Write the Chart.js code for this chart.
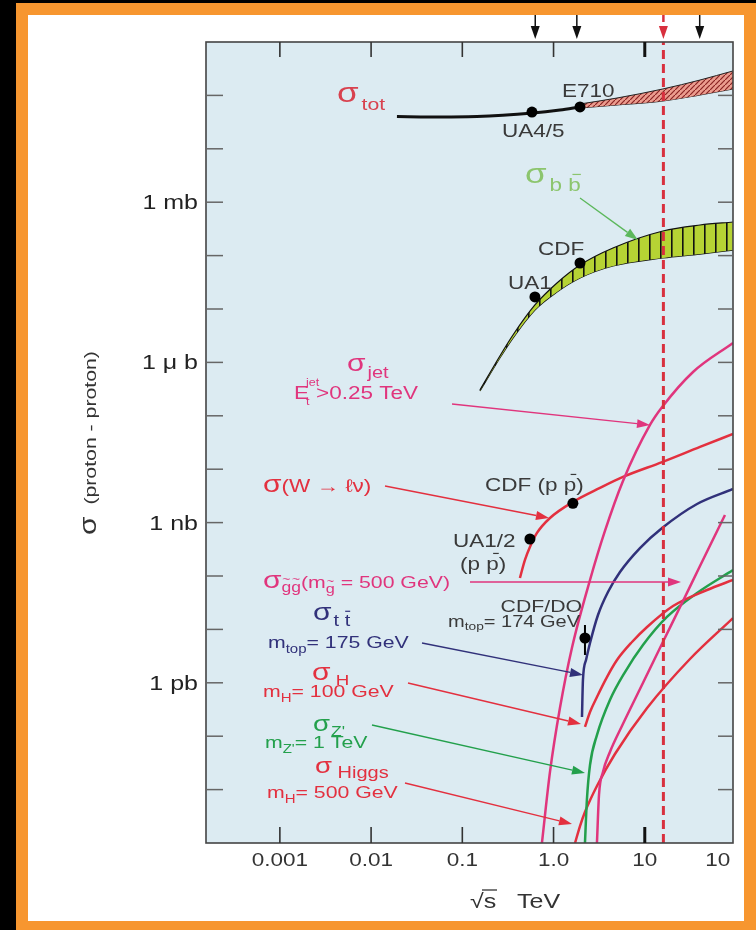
<!DOCTYPE html>
<html>
<head>
<meta charset="utf-8">
<script src="https://cdn.jsdelivr.net/npm/chart.js@4.4.1/dist/chart.umd.min.js"></script>
<style>
  html, body { margin: 0; padding: 0; background: #000; }
  canvas { display: block; }
</style>
</head>
<body>
<canvas id="c" width="756" height="930"></canvas>
<script>
// ---------------- data (sqrt(s) in TeV, cross sections in pb) ----------------
const colliderEnergies = [0.63, 1.8, 16, 40];          // arrows above the frame
const dashedEnergy = 16;                               // dashed vertical marker
const xTickValues = [0.001, 0.01, 0.1, 1, 10, 100];
const xTickLabels = ['0.001', '0.01', '0.1', '1.0', '10', '100'];
const yTickValues = [1e9, 1e6, 1e3, 1];
const yTickLabels = ['1 mb', '1 \u03bc b', '1 nb', '1 pb'];

// sigma_tot
const totLineS     = [0.0192, 0.0441, 0.1445, 0.594, 1.175, 1.95];
const totLineSigma = [4.02e10, 3.94e10, 4.02e10, 4.68e10, 5.33e10, 6.07e10];
const totBandS     = [1.95, 4.96, 15.8, 40.3, 92.7];
const totBandHigh  = [6.9e10, 8.93e10, 1.32e11, 1.94e11, 2.87e11];
const totBandLow   = [5.81e10, 6.61e10, 7.85e10, 1.02e11, 1.32e11];
const totPointS     = [0.58, 1.95];                    // UA4/5, E710
const totPointSigma = [4.88e10, 6.07e10];

// sigma_bbbar band
const bbS    = [0.156, 0.258, 0.359, 0.625, 1.09, 1.95, 4.48, 15.8, 40.3, 92.7];
const bbHigh = [3.04e5, 1.32e6, 3.26e6, 1.19e7, 3.07e7, 6.67e7, 1.39e8, 2.89e8, 3.74e8, 4.26e8];
const bbLow  = [2.91e5, 1.21e6, 2.86e6, 9.57e6, 2.08e7, 3.81e7, 6.38e7, 9.02e7, 1.07e8, 1.27e8];
const bbPointS     = [0.625, 1.95];                    // UA1, CDF
const bbPointSigma = [1.68e7, 7.27e7];

// sigma_jet (E_T > 0.25 TeV)
const jetS     = [0.746, 0.914, 1.175, 1.59, 2.51, 3.66, 5.77, 11.4, 15.5, 33.8, 92.7];
const jetSigma = [0.001, 0.0214, 0.337, 4.49, 84.2, 697, 6.01e3, 6.73e4, 1.46e5, 6.61e5, 2.31e6];

// sigma(W -> l nu)
const wS     = [0.428, 0.486, 0.551, 0.658, 0.914, 1.63, 3.23, 5.77, 15.5, 40.3, 92.7];
const wSigma = [91.8, 200, 349, 640, 1.22e3, 2.44e3, 4.47e3, 7.18e3, 1.36e4, 2.61e4, 4.57e4];
const wPointS     = [0.551, 1.63];                     // UA1/2, CDF
const wPointSigma = [493, 2.3e3];

// sigma(gluino pair), m = 500 GeV
const ggS     = [2.99, 3.15, 3.48, 4.15, 5.62, 8.86, 15.8, 25.6, 40.3, 75.7];
const ggSigma = [0.001, 0.008, 0.0214, 0.0506, 0.155, 0.766, 5.81, 31.2, 154, 1.39e3];

// sigma(t tbar), m_top = 175 GeV
const ttS     = [2.05, 2.10, 2.27, 2.51, 3.07, 3.95, 5.35, 8.86, 15.5, 37.4, 92.7];
const ttSigma = [0.229, 1.13, 2.67, 5.56, 18.6, 50.1, 119, 334, 793, 2.23e3, 4.26e3];
const ttPointS = 2.21, ttPointSigma = 6.9, ttErrLow = 3.32, ttErrHigh = 12.1;   // CDF/D0

// sigma_H, m_H = 100 GeV
const h100S     = [2.21, 2.51, 2.99, 3.85, 4.96, 7.24, 10.6, 20.4, 48.1, 92.7];
const h100Sigma = [0.149, 0.284, 0.542, 1.28, 2.67, 5.81, 11.1, 27.4, 54.7, 84.2];

// sigma_Z', m_Z' = 1 TeV
const zpS     = [2.21, 2.32, 2.51, 2.99, 4.15, 6.07, 9.55, 17.5, 37.4, 92.7];
const zpSigma = [0.001, 0.00639, 0.0289, 0.105, 0.476, 1.59, 5.10, 17.1, 48.1, 129];

// sigma_Higgs, m_H = 500 GeV
const h500S     = [1.72, 1.95, 2.21, 2.99, 4.71, 10.6, 31.3, 92.7];
const h500Sigma = [0.001, 0.00208, 0.00381, 0.0117, 0.0464, 0.337, 2.79, 16.3];

// ---------------- styling ----------------
const FONT = '"Liberation Sans", Arial, Helvetica, sans-serif';
const SX = 1.25;                       // horizontal stretch of all lettering
const TXT = '#3a3a3a';
const RED_T = '#d8424f';
const GREEN_L = '#8cc56e';
const MAG = '#e0357d';
const RED = '#e3303f';
const NAVY = '#31317a';
const GREEN = '#23a04c';
const BG = '#dcebf2';

const pts = (xs, ys) => xs.map((x, i) => ({ x: x, y: ys[i] }));

function makePattern(w, h, draw) {
  const c = document.createElement('canvas');
  c.width = w; c.height = h;
  const g = c.getContext('2d');
  draw(g, w, h);
  return document.getElementById('c').getContext('2d').createPattern(c, 'repeat');
}
const bbPattern = makePattern(11, 11, (g, w, h) => {
  g.fillStyle = '#b6d334'; g.fillRect(0, 0, w, h);
  g.fillStyle = '#111'; g.fillRect(0, 0, 1.6, h);
});
const totPattern = makePattern(5, 5, (g, w, h) => {
  g.fillStyle = '#eb9c8e'; g.fillRect(0, 0, w, h);
  g.strokeStyle = '#8a2424'; g.lineWidth = 1.2;
  g.beginPath(); g.moveTo(-1, h + 1); g.lineTo(w + 1, -1); g.stroke();
});

const curve = (data, color, width) => ({
  data: data, borderColor: color, borderWidth: width, pointRadius: 0,
  fill: false, cubicInterpolationMode: 'monotone'
});
const dots = (data) => ({
  data: data, showLine: false, pointRadius: 5.5, pointBackgroundColor: '#000',
  pointBorderColor: '#000', pointBorderWidth: 0
});

// ---------------- text helpers ----------------
function partWidth(ctx, p) {
  ctx.font = (p.w || 'normal') + ' ' + p.s + 'px ' + FONT;
  return ctx.measureText(p.t).width * SX;
}
function rich(ctx, x, y, parts, color, align) {
  let total = 0;
  parts.forEach(p => { total += partWidth(ctx, p) + (p.dx || 0); });
  let cx = x;
  if (align === 'right') cx = x - total;
  if (align === 'center') cx = x - total / 2;
  parts.forEach(p => {
    const w = partWidth(ctx, p);
    cx += (p.dx || 0);
    const by = y + (p.dy || 0);
    ctx.fillStyle = p.c || color;
    ctx.strokeStyle = p.c || color;
    ctx.save();
    ctx.translate(cx, by);
    ctx.scale(SX, 1);
    ctx.textAlign = 'left';
    ctx.textBaseline = 'alphabetic';
    ctx.fillText(p.t, 0, 0);
    ctx.restore();
    if (p.bar) {
      ctx.lineWidth = 1.2;
      ctx.beginPath();
      ctx.moveTo(cx + w * 0.55, by - p.s * 0.92);
      ctx.lineTo(cx + w, by - p.s * 0.92);
      ctx.stroke();
    }
    if (p.tilde) {
      ctx.save();
      ctx.font = Math.round(p.s * 0.8) + 'px ' + FONT;
      ctx.textAlign = 'center';
      ctx.translate(cx + w / 2, by - p.s * 0.62);
      ctx.scale(SX, 1);
      ctx.fillText('~', 0, 0);
      ctx.restore();
    }
    cx += w;
  });
}
function arrow(ctx, x1, y1, x2, y2, color, width, dash) {
  const a = Math.atan2(y2 - y1, x2 - x1);
  const L = 13, W = 4.5;
  const bx = x2 - L * Math.cos(a), by = y2 - L * Math.sin(a);
  ctx.save();
  ctx.strokeStyle = color; ctx.fillStyle = color; ctx.lineWidth = width;
  if (dash) ctx.setLineDash(dash);
  ctx.beginPath(); ctx.moveTo(x1, y1); ctx.lineTo(bx, by); ctx.stroke();
  ctx.setLineDash([]);
  ctx.beginPath();
  ctx.moveTo(x2, y2);
  ctx.lineTo(bx + W * Math.sin(a), by - W * Math.cos(a));
  ctx.lineTo(bx - W * Math.sin(a), by + W * Math.cos(a));
  ctx.closePath(); ctx.fill();
  ctx.restore();
}

// labels placed on the page
const labels = [
  { x: 337, y: 102, c: RED_T, p: [{ t: '\u03c3', s: 28 }, { t: 'tot', s: 17, dy: 8, dx: 3 }] },
  { x: 562, y: 97, c: TXT, p: [{ t: 'E710', s: 18 }] },
  { x: 502, y: 137, c: TXT, p: [{ t: 'UA4/5', s: 18 }] },
  { x: 525, y: 183, c: GREEN_L, p: [{ t: '\u03c3', s: 28 }, { t: 'b', s: 18, dy: 8, dx: 3 }, { t: ' b', s: 18, dy: 8, bar: true }] },
  { x: 538, y: 255, c: TXT, p: [{ t: 'CDF', s: 18 }] },
  { x: 508, y: 289, c: TXT, p: [{ t: 'UA1', s: 18 }] },
  { x: 347, y: 371, c: MAG, p: [{ t: '\u03c3', s: 24 }, { t: 'jet', s: 16, dy: 7, dx: 2 }] },
  { x: 294, y: 399, c: MAG, p: [{ t: 'E', s: 18 }] },
  { x: 306, y: 386, c: MAG, p: [{ t: 'jet', s: 10 }] },
  { x: 306, y: 405, c: MAG, p: [{ t: 't', s: 10 }] },
  { x: 316, y: 399, c: MAG, p: [{ t: '>0.25 TeV', s: 18 }] },
  { x: 263, y: 492, c: RED, p: [{ t: '\u03c3', s: 24 }, { t: '(W \u2192 \u2113\u03bd)', s: 18 }] },
  { x: 485, y: 491, c: TXT, p: [{ t: 'CDF (p ', s: 18 }, { t: 'p', s: 18, bar: true }, { t: ')', s: 18 }] },
  { x: 453, y: 547, c: TXT, p: [{ t: 'UA1/2', s: 18 }] },
  { x: 460, y: 570, c: TXT, p: [{ t: '(p ', s: 18 }, { t: 'p', s: 18, bar: true }, { t: ')', s: 18 }] },
  { x: 263, y: 588, c: MAG, p: [{ t: '\u03c3', s: 24 }, { t: 'g', s: 14, dy: 4, tilde: true }, { t: 'g', s: 14, dy: 4, tilde: true },
                                { t: '(m', s: 17 }, { t: 'g', s: 13, dy: 5, tilde: true }, { t: ' = 500 GeV)', s: 17 }] },
  { x: 313, y: 620, c: NAVY, p: [{ t: '\u03c3', s: 24 }, { t: 't', s: 16, dy: 6, dx: 2 }, { t: ' t', s: 16, dy: 6, bar: true }] },
  { x: 268, y: 648, c: NAVY, p: [{ t: 'm', s: 17 }, { t: 'top', s: 12, dy: 5 }, { t: '= 175 GeV', s: 17 }] },
  { x: 312, y: 680, c: RED, p: [{ t: '\u03c3', s: 24 }, { t: ' H', s: 15, dy: 5 }] },
  { x: 263, y: 697, c: RED, p: [{ t: 'm', s: 17 }, { t: 'H', s: 12, dy: 5 }, { t: '= 100 GeV', s: 17 }] },
  { x: 313, y: 731, c: GREEN, p: [{ t: '\u03c3', s: 22 }, { t: 'Z\'', s: 14, dy: 5, dx: 1 }] },
  { x: 265, y: 748, c: GREEN, p: [{ t: 'm', s: 17 }, { t: 'Z\'', s: 12, dy: 5 }, { t: '= 1 TeV', s: 17 }] },
  { x: 315, y: 773, c: RED, p: [{ t: '\u03c3', s: 22 }, { t: ' Higgs', s: 16, dy: 5 }] },
  { x: 267, y: 798, c: RED, p: [{ t: 'm', s: 17 }, { t: 'H', s: 12, dy: 5 }, { t: '= 500 GeV', s: 17 }] },
  { x: 582, y: 612, c: TXT, align: 'right', p: [{ t: 'CDF/DO', s: 17 }] },
  { x: 580, y: 627, c: TXT, align: 'right', p: [{ t: 'm', s: 16 }, { t: 'top', s: 11, dy: 3 }, { t: '= 174 GeV', s: 16 }] }
];

// pointer arrows from the labels to their curves
const pointers = [
  { a: [580, 198, 638, 240], c: '#5cb85c' },
  { a: [452, 404, 650, 425], c: MAG },
  { a: [385, 486, 549, 518], c: RED },
  { a: [470, 582, 681, 582], c: MAG },
  { a: [422, 643, 583, 675], c: NAVY },
  { a: [408, 683, 581, 724], c: RED },
  { a: [372, 725, 585, 773], c: GREEN },
  { a: [405, 783, 572, 824], c: RED }
];

const decor = {
  id: 'decor',
  beforeDraw(chart) {
    const ctx = chart.ctx, a = chart.chartArea;
    ctx.save();
    ctx.fillStyle = '#000'; ctx.fillRect(0, 0, 756, 930);
    ctx.fillStyle = '#f7962f'; ctx.fillRect(16, 3, 740, 927);
    ctx.fillStyle = '#fff'; ctx.fillRect(28, 15, 716, 906);
    ctx.fillStyle = BG; ctx.fillRect(a.left, a.top, a.right - a.left, a.bottom - a.top);
    ctx.restore();
  },
  afterDraw(chart) {
    const ctx = chart.ctx, a = chart.chartArea;
    const xs = chart.scales.x, ys = chart.scales.y;
    ctx.save();

    // frame of the plot
    ctx.lineWidth = 1.6;
    ctx.strokeStyle = '#444';
    ctx.strokeRect(a.left, a.top, a.right - a.left, a.bottom - a.top);

    // decade ticks on the y axis, pointing inward on both sides
    ctx.strokeStyle = '#666'; ctx.lineWidth = 1.5;
    for (let e = -2; e <= 11; e++) {
      const y = ys.getPixelForValue(Math.pow(10, e));
      ctx.beginPath(); ctx.moveTo(a.left, y); ctx.lineTo(a.left + 17, y); ctx.stroke();
      ctx.beginPath(); ctx.moveTo(a.right, y); ctx.lineTo(a.right - 15, y); ctx.stroke();
    }
    // decade ticks on the x axis, top and bottom
    xTickValues.slice(0, 5).forEach(v => {
      const x = xs.getPixelForValue(v);
      ctx.lineWidth = v === 10 ? 3 : 1.6;
      ctx.strokeStyle = v === 10 ? '#111' : '#333';
      ctx.beginPath(); ctx.moveTo(x, a.bottom); ctx.lineTo(x, a.bottom - 16); ctx.stroke();
      ctx.beginPath(); ctx.moveTo(x, a.top); ctx.lineTo(x, a.top + 15); ctx.stroke();
    });

    // tick labels
    yTickValues.forEach((v, i) => {
      rich(ctx, 198, ys.getPixelForValue(v) + 7, [{ t: yTickLabels[i], s: 20 }], '#222', 'right');
    });
    ctx.save();
    ctx.beginPath(); ctx.rect(0, 0, a.right - 3, 930); ctx.clip();
    xTickValues.forEach((v, i) => {
      const x = Math.min(xs.getPixelForValue(v), a.right - 9);
      rich(ctx, x, 866, [{ t: xTickLabels[i], s: 18 }], '#333', 'center');
    });
    ctx.restore();

    // axis titles
    rich(ctx, 470, 908, [{ t: '\u221a', s: 20 }, { t: 's', s: 20 }, { t: '   TeV', s: 20 }], '#333', 'left');
    ctx.strokeStyle = '#333'; ctx.lineWidth = 1.3;
    ctx.beginPath(); ctx.moveTo(482, 890); ctx.lineTo(497, 890); ctx.stroke();

    ctx.save();
    ctx.translate(96, 443);
    ctx.rotate(-Math.PI / 2);
    rich(ctx, 0, 0, [{ t: '\u03c3', s: 24 }, { t: '  (proton - proton)', s: 17 }], '#333', 'center');
    ctx.restore();

    // collider energy arrows above the frame
    colliderEnergies.forEach(e => {
      const x = xs.getPixelForValue(e);
      const isDashed = e === dashedEnergy;
      arrow(ctx, x, 15, x, 39, isDashed ? '#d8303e' : '#111', isDashed ? 2.5 : 1.5, isDashed ? [7, 4] : null);
    });

    // pointers and labels
    pointers.forEach(p => arrow(ctx, p.a[0], p.a[1], p.a[2], p.a[3], p.c, 1.3));
    labels.forEach(l => rich(ctx, l.x, l.y, l.p, l.c, l.align || 'left'));
    ctx.restore();
  }
};

const datasets = [
  dots(pts(totPointS, totPointSigma)),
  dots(pts(bbPointS, bbPointSigma)),
  dots(pts(wPointS, wPointSigma)),
  dots([{ x: ttPointS, y: ttPointSigma }]),
  { data: [{ x: ttPointS, y: ttErrLow }, { x: ttPointS, y: ttErrHigh }], borderColor: '#000', borderWidth: 2, pointRadius: 0 },
  { data: [{ x: dashedEnergy, y: 1e-3 }, { x: dashedEnergy, y: 1e12 }], borderColor: '#d8303e', borderWidth: 3, borderDash: [9, 5], pointRadius: 0 },
  curve(pts(jetS, jetSigma), MAG, 2.5),
  curve(pts(ggS, ggSigma), MAG, 2.5),
  curve(pts(wS, wSigma), RED, 2.5),
  curve(pts(ttS, ttSigma), NAVY, 2.5),
  curve(pts(h100S, h100Sigma), RED, 2.5),
  curve(pts(zpS, zpSigma), GREEN, 2.5),
  curve(pts(h500S, h500Sigma), RED, 2.5),
  curve(pts(totLineS, totLineSigma), '#111', 3),
  Object.assign(curve(pts(totBandS, totBandHigh), '#222', 1), { fill: '+1', backgroundColor: totPattern }),
  curve(pts(totBandS, totBandLow), '#222', 1.2),
  Object.assign(curve(pts(bbS, bbHigh), '#111', 1.2), { fill: '+1', backgroundColor: bbPattern }),
  curve(pts(bbS, bbLow), '#111', 1.2)
];

new Chart(document.getElementById('c'), {
  type: 'line',
  data: { datasets: datasets },
  options: {
    responsive: false,
    animation: false,
    devicePixelRatio: 1,
    layout: { padding: { left: 206, right: 23, top: 42, bottom: 87 } },
    plugins: { legend: { display: false }, tooltip: { enabled: false } },
    scales: {
      x: { type: 'logarithmic', min: 1.55e-4, max: 92.7, display: false },
      y: { type: 'logarithmic', min: 1e-3, max: 1e12, display: false }
    }
  },
  plugins: [decor]
});
</script>
</body>
</html>
